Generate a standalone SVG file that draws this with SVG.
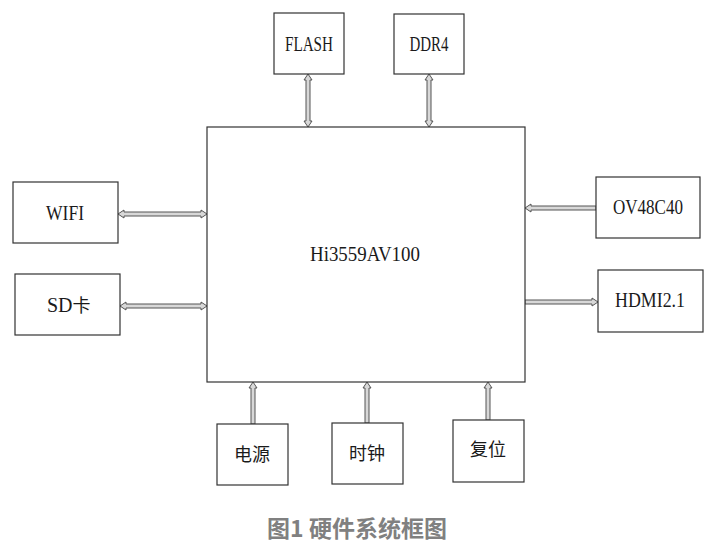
<svg xmlns="http://www.w3.org/2000/svg" width="714" height="551" viewBox="0 0 714 551">
<style>
.box{fill:#fff;stroke:#333;stroke-width:1.2}
.lbl{font-family:"Liberation Serif",serif;font-size:20px;fill:#1a1a1a;text-anchor:middle}
.cjk{font-family:"Noto Sans CJK SC",sans-serif;font-size:18px;fill:#1a1a1a;text-anchor:middle}
.arr{fill:#d8d8d8;stroke:#555;stroke-width:1;stroke-linejoin:miter}
.cap{font-family:"Noto Sans CJK SC",sans-serif;font-size:23px;font-weight:bold;fill:#808080;text-anchor:middle}
</style>
<rect width="714" height="551" fill="#fff"/>
<g id="connectors">
<path class="arr" d="M308,74 L312,80 L310,80 L310,121 L312,121 L308,127 L304,121 L306,121 L306,80 L304,80 Z"/>
<path class="arr" d="M429,74 L433,80 L431,80 L431,121 L433,121 L429,127 L425,121 L427,121 L427,80 L425,80 Z"/>
<path class="arr" d="M118,214 L124,210 L124,212 L201,212 L201,210 L207,214 L201,218 L201,216 L124,216 L124,218 Z"/>
<path class="arr" d="M120,306 L126,302 L126,304 L201,304 L201,302 L207,306 L201,310 L201,308 L126,308 L126,310 Z"/>
<path class="arr" d="M525,208 L531,204 L531,206 L596,206 L596,210 L531,210 L531,212 Z"/>
<path class="arr" d="M598,302 L592,298 L592,300 L525,300 L525,304 L592,304 L592,306 Z"/>
<path class="arr" d="M253,382 L257,388 L255,388 L255,424 L251,424 L251,388 L249,388 Z"/>
<path class="arr" d="M367,382 L371,388 L369,388 L369,423 L365,423 L365,388 L363,388 Z"/>
<path class="arr" d="M488,382 L492,388 L490,388 L490,420 L486,420 L486,388 L484,388 Z"/>
</g>
<g id="main"><rect class="box" x="207" y="127" width="318" height="255"/><text class="lbl" x="365" y="261" textLength="110" lengthAdjust="spacingAndGlyphs">Hi3559AV100</text></g>
<g id="flash"><rect class="box" x="274" y="13" width="70" height="61"/><text class="lbl" x="309" y="51" textLength="48" lengthAdjust="spacingAndGlyphs">FLASH</text></g>
<g id="ddr4"><rect class="box" x="394" y="14" width="70" height="60"/><text class="lbl" x="429" y="51" textLength="39" lengthAdjust="spacingAndGlyphs">DDR4</text></g>
<g id="wifi"><rect class="box" x="13" y="182" width="105" height="61"/><text class="lbl" x="65" y="220" textLength="38" lengthAdjust="spacingAndGlyphs">WIFI</text></g>
<g id="sd"><rect class="box" x="15" y="274" width="105" height="61"/><text x="47" y="312" style="font-family:'Liberation Serif',serif;font-size:20px;fill:#1a1a1a">SD<tspan style="font-family:'Noto Sans CJK SC',sans-serif;font-size:18px">卡</tspan></text></g>
<g id="ov"><rect class="box" x="596" y="177" width="104" height="61"/><text class="lbl" x="648" y="214" textLength="70" lengthAdjust="spacingAndGlyphs">OV48C40</text></g>
<g id="hdmi"><rect class="box" x="598" y="270" width="105" height="62"/><text class="lbl" x="650" y="307" textLength="70" lengthAdjust="spacingAndGlyphs">HDMI2.1</text></g>
<g id="power"><rect class="box" x="217" y="424" width="71" height="61"/><text class="cjk" x="252" y="461">电源</text></g>
<g id="clock"><rect class="box" x="332" y="423" width="71" height="61"/><text class="cjk" x="367" y="460">时钟</text></g>
<g id="reset"><rect class="box" x="453" y="420" width="71" height="62"/><text class="cjk" x="488" y="456">复位</text></g>
<text class="cap" x="357" y="537">图1 硬件系统框图</text>
</svg>
